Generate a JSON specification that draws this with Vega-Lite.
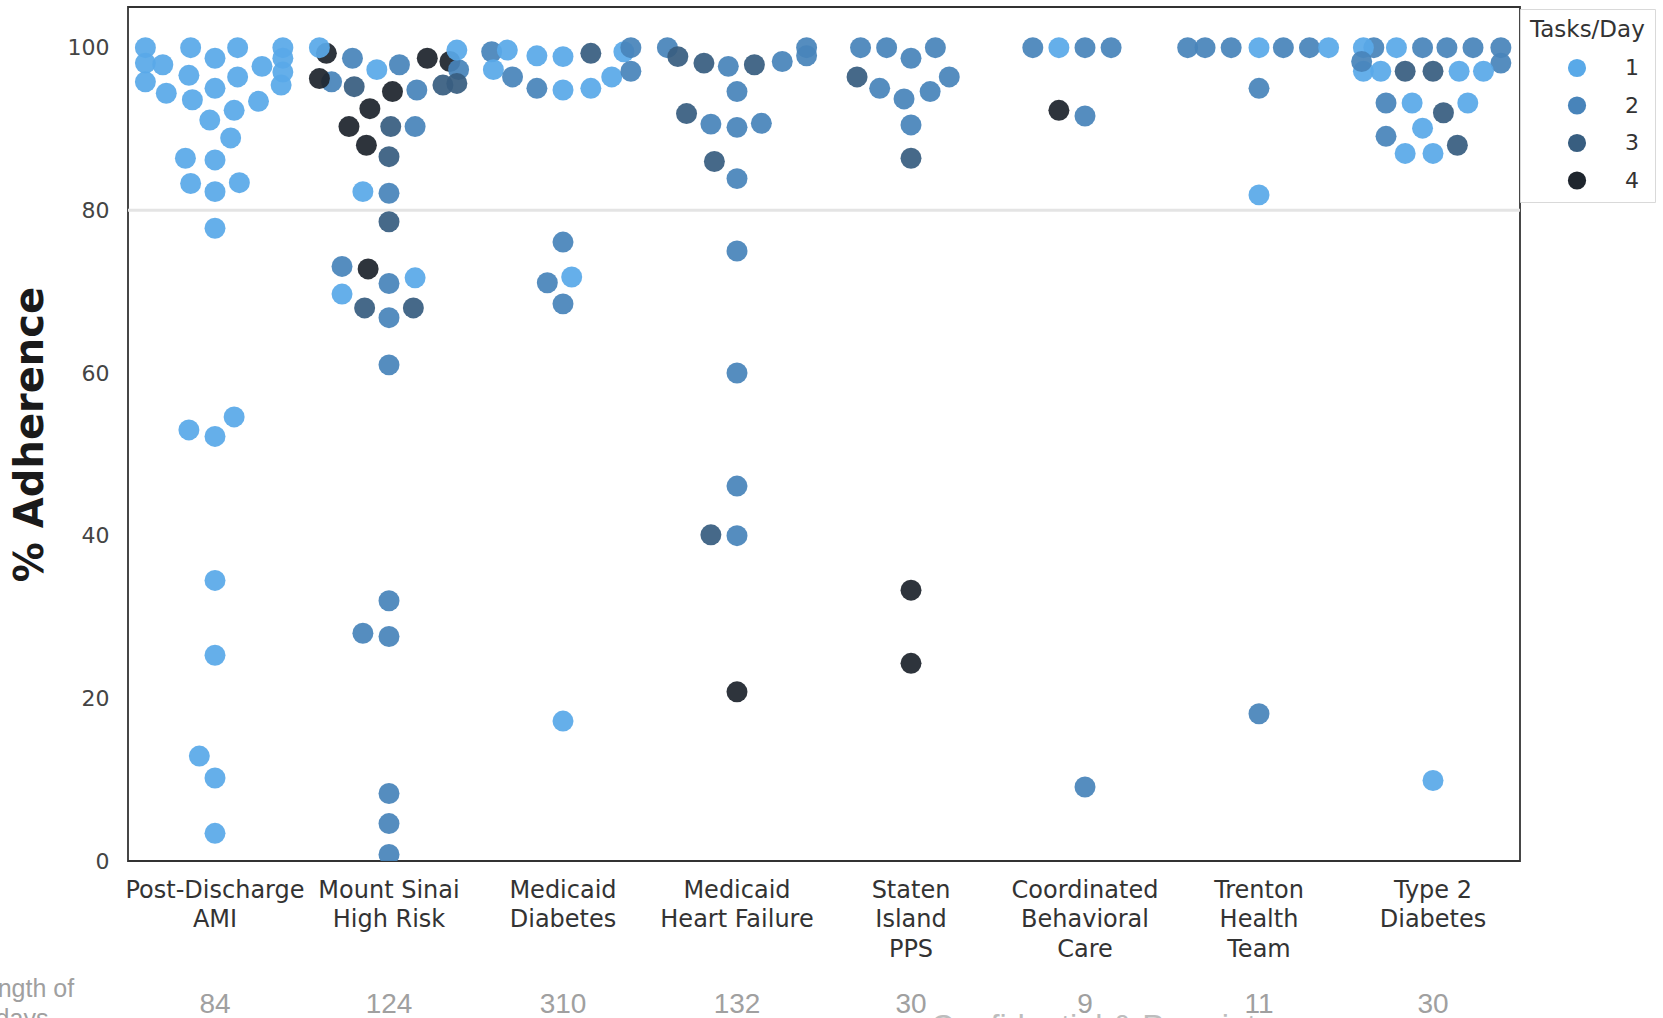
{
  "$schema": "https://vega.github.io/schema/vega-lite/v6.json",
  "autosize": {"type": "none"},
  "padding": {"left": 128, "top": 7, "right": 143, "bottom": 157},
  "width": 1392,
  "height": 854,
  "background": "white",
  "config": {
    "view": {"stroke": "#333333", "strokeWidth": 1.8},
    "legend": {
      "orient": "none", "legendX": 1392, "legendY": 2, "padding": 10,
      "fillColor": "white", "strokeColor": "#d9d9d9", "cornerRadius": 0,
      "titleFont": "DejaVu Sans", "titleFontSize": 23, "titleFontWeight": "normal", "titleColor": "#333333", "titlePadding": 15,
      "labelFont": "DejaVu Sans", "labelFontSize": 22, "labelColor": "#333333",
      "symbolType": "circle", "symbolSize": 330, "symbolOpacity": 1, "symbolStrokeWidth": 0,
      "symbolOffset": 36, "labelOffset": 37, "rowPadding": 15.5
    }
  },
  "datasets": {
    "points": [
      {"program": "Post-Discharge|AMI", "offset": -0.40, "adherence": 100, "tasks": 1},
      {"program": "Post-Discharge|AMI", "offset": -0.40, "adherence": 98.1, "tasks": 1},
      {"program": "Post-Discharge|AMI", "offset": -0.40, "adherence": 95.8, "tasks": 1},
      {"program": "Post-Discharge|AMI", "offset": -0.30, "adherence": 97.9, "tasks": 1},
      {"program": "Post-Discharge|AMI", "offset": -0.28, "adherence": 94.4, "tasks": 1},
      {"program": "Post-Discharge|AMI", "offset": -0.14, "adherence": 100, "tasks": 1},
      {"program": "Post-Discharge|AMI", "offset": -0.15, "adherence": 96.6, "tasks": 1},
      {"program": "Post-Discharge|AMI", "offset": -0.13, "adherence": 93.6, "tasks": 1},
      {"program": "Post-Discharge|AMI", "offset": 0, "adherence": 98.7, "tasks": 1},
      {"program": "Post-Discharge|AMI", "offset": 0, "adherence": 95.0, "tasks": 1},
      {"program": "Post-Discharge|AMI", "offset": -0.03, "adherence": 91.1, "tasks": 1},
      {"program": "Post-Discharge|AMI", "offset": 0.13, "adherence": 100, "tasks": 1},
      {"program": "Post-Discharge|AMI", "offset": 0.13, "adherence": 96.4, "tasks": 1},
      {"program": "Post-Discharge|AMI", "offset": 0.11, "adherence": 92.3, "tasks": 1},
      {"program": "Post-Discharge|AMI", "offset": 0.09, "adherence": 88.9, "tasks": 1},
      {"program": "Post-Discharge|AMI", "offset": 0.27, "adherence": 97.7, "tasks": 1},
      {"program": "Post-Discharge|AMI", "offset": 0.25, "adherence": 93.4, "tasks": 1},
      {"program": "Post-Discharge|AMI", "offset": 0.39, "adherence": 100, "tasks": 1},
      {"program": "Post-Discharge|AMI", "offset": 0.39, "adherence": 98.7, "tasks": 1},
      {"program": "Post-Discharge|AMI", "offset": 0.39, "adherence": 97.0, "tasks": 1},
      {"program": "Post-Discharge|AMI", "offset": 0.38, "adherence": 95.4, "tasks": 1},
      {"program": "Post-Discharge|AMI", "offset": -0.17, "adherence": 86.4, "tasks": 1},
      {"program": "Post-Discharge|AMI", "offset": 0, "adherence": 86.2, "tasks": 1},
      {"program": "Post-Discharge|AMI", "offset": -0.14, "adherence": 83.3, "tasks": 1},
      {"program": "Post-Discharge|AMI", "offset": 0, "adherence": 82.3, "tasks": 1},
      {"program": "Post-Discharge|AMI", "offset": 0.14, "adherence": 83.4, "tasks": 1},
      {"program": "Post-Discharge|AMI", "offset": 0, "adherence": 77.8, "tasks": 1},
      {"program": "Post-Discharge|AMI", "offset": -0.15, "adherence": 53.0, "tasks": 1},
      {"program": "Post-Discharge|AMI", "offset": 0, "adherence": 52.2, "tasks": 1},
      {"program": "Post-Discharge|AMI", "offset": 0.11, "adherence": 54.6, "tasks": 1},
      {"program": "Post-Discharge|AMI", "offset": 0, "adherence": 34.5, "tasks": 1},
      {"program": "Post-Discharge|AMI", "offset": 0, "adherence": 25.3, "tasks": 1},
      {"program": "Post-Discharge|AMI", "offset": -0.09, "adherence": 12.9, "tasks": 1},
      {"program": "Post-Discharge|AMI", "offset": 0, "adherence": 10.2, "tasks": 1},
      {"program": "Post-Discharge|AMI", "offset": 0, "adherence": 3.4, "tasks": 1},

      {"program": "Mount Sinai|High Risk", "offset": -0.36, "adherence": 99.3, "tasks": 4},
      {"program": "Mount Sinai|High Risk", "offset": -0.40, "adherence": 100, "tasks": 1},
      {"program": "Mount Sinai|High Risk", "offset": -0.33, "adherence": 95.8, "tasks": 2},
      {"program": "Mount Sinai|High Risk", "offset": -0.40, "adherence": 96.2, "tasks": 4},
      {"program": "Mount Sinai|High Risk", "offset": -0.21, "adherence": 98.7, "tasks": 2},
      {"program": "Mount Sinai|High Risk", "offset": -0.20, "adherence": 95.2, "tasks": 3},
      {"program": "Mount Sinai|High Risk", "offset": -0.07, "adherence": 97.3, "tasks": 1},
      {"program": "Mount Sinai|High Risk", "offset": 0.06, "adherence": 97.9, "tasks": 2},
      {"program": "Mount Sinai|High Risk", "offset": 0.02, "adherence": 94.6, "tasks": 4},
      {"program": "Mount Sinai|High Risk", "offset": 0.16, "adherence": 94.8, "tasks": 2},
      {"program": "Mount Sinai|High Risk", "offset": 0.22, "adherence": 98.7, "tasks": 4},
      {"program": "Mount Sinai|High Risk", "offset": 0.31, "adherence": 95.4, "tasks": 3},
      {"program": "Mount Sinai|High Risk", "offset": 0.35, "adherence": 98.3, "tasks": 4},
      {"program": "Mount Sinai|High Risk", "offset": 0.40, "adherence": 97.3, "tasks": 2},
      {"program": "Mount Sinai|High Risk", "offset": 0.39, "adherence": 95.6, "tasks": 3},
      {"program": "Mount Sinai|High Risk", "offset": 0.39, "adherence": 99.7, "tasks": 1},
      {"program": "Mount Sinai|High Risk", "offset": -0.11, "adherence": 92.5, "tasks": 4},
      {"program": "Mount Sinai|High Risk", "offset": -0.23, "adherence": 90.3, "tasks": 4},
      {"program": "Mount Sinai|High Risk", "offset": 0.01, "adherence": 90.3, "tasks": 3},
      {"program": "Mount Sinai|High Risk", "offset": 0.15, "adherence": 90.3, "tasks": 2},
      {"program": "Mount Sinai|High Risk", "offset": -0.13, "adherence": 88.0, "tasks": 4},
      {"program": "Mount Sinai|High Risk", "offset": 0, "adherence": 86.6, "tasks": 3},
      {"program": "Mount Sinai|High Risk", "offset": -0.15, "adherence": 82.3, "tasks": 1},
      {"program": "Mount Sinai|High Risk", "offset": 0, "adherence": 82.1, "tasks": 2},
      {"program": "Mount Sinai|High Risk", "offset": 0, "adherence": 78.6, "tasks": 3},
      {"program": "Mount Sinai|High Risk", "offset": -0.27, "adherence": 73.1, "tasks": 2},
      {"program": "Mount Sinai|High Risk", "offset": -0.12, "adherence": 72.8, "tasks": 4},
      {"program": "Mount Sinai|High Risk", "offset": 0, "adherence": 71.0, "tasks": 2},
      {"program": "Mount Sinai|High Risk", "offset": 0.15, "adherence": 71.7, "tasks": 1},
      {"program": "Mount Sinai|High Risk", "offset": -0.27, "adherence": 69.7, "tasks": 1},
      {"program": "Mount Sinai|High Risk", "offset": -0.14, "adherence": 68.0, "tasks": 3},
      {"program": "Mount Sinai|High Risk", "offset": 0, "adherence": 66.8, "tasks": 2},
      {"program": "Mount Sinai|High Risk", "offset": 0.14, "adherence": 68.0, "tasks": 3},
      {"program": "Mount Sinai|High Risk", "offset": 0, "adherence": 61.0, "tasks": 2},
      {"program": "Mount Sinai|High Risk", "offset": 0, "adherence": 32.0, "tasks": 2},
      {"program": "Mount Sinai|High Risk", "offset": -0.15, "adherence": 28.0, "tasks": 2},
      {"program": "Mount Sinai|High Risk", "offset": 0, "adherence": 27.6, "tasks": 2},
      {"program": "Mount Sinai|High Risk", "offset": 0, "adherence": 8.3, "tasks": 2},
      {"program": "Mount Sinai|High Risk", "offset": 0, "adherence": 4.6, "tasks": 2},
      {"program": "Mount Sinai|High Risk", "offset": 0, "adherence": 0.8, "tasks": 2},

      {"program": "Medicaid|Diabetes", "offset": -0.41, "adherence": 99.5, "tasks": 2},
      {"program": "Medicaid|Diabetes", "offset": -0.32, "adherence": 99.7, "tasks": 1},
      {"program": "Medicaid|Diabetes", "offset": -0.40, "adherence": 97.3, "tasks": 1},
      {"program": "Medicaid|Diabetes", "offset": -0.29, "adherence": 96.4, "tasks": 2},
      {"program": "Medicaid|Diabetes", "offset": -0.15, "adherence": 99.0, "tasks": 1},
      {"program": "Medicaid|Diabetes", "offset": -0.15, "adherence": 95.0, "tasks": 2},
      {"program": "Medicaid|Diabetes", "offset": 0, "adherence": 98.9, "tasks": 1},
      {"program": "Medicaid|Diabetes", "offset": 0, "adherence": 94.8, "tasks": 1},
      {"program": "Medicaid|Diabetes", "offset": 0.16, "adherence": 99.3, "tasks": 3},
      {"program": "Medicaid|Diabetes", "offset": 0.16, "adherence": 95.0, "tasks": 1},
      {"program": "Medicaid|Diabetes", "offset": 0.28, "adherence": 96.4, "tasks": 1},
      {"program": "Medicaid|Diabetes", "offset": 0.35, "adherence": 99.5, "tasks": 1},
      {"program": "Medicaid|Diabetes", "offset": 0.39, "adherence": 100, "tasks": 2},
      {"program": "Medicaid|Diabetes", "offset": 0.39, "adherence": 97.1, "tasks": 2},
      {"program": "Medicaid|Diabetes", "offset": 0, "adherence": 76.1, "tasks": 2},
      {"program": "Medicaid|Diabetes", "offset": -0.09, "adherence": 71.1, "tasks": 2},
      {"program": "Medicaid|Diabetes", "offset": 0.05, "adherence": 71.8, "tasks": 1},
      {"program": "Medicaid|Diabetes", "offset": 0, "adherence": 68.5, "tasks": 2},
      {"program": "Medicaid|Diabetes", "offset": 0, "adherence": 17.2, "tasks": 1},

      {"program": "Medicaid|Heart Failure", "offset": -0.40, "adherence": 100, "tasks": 2},
      {"program": "Medicaid|Heart Failure", "offset": -0.34, "adherence": 98.9, "tasks": 3},
      {"program": "Medicaid|Heart Failure", "offset": -0.19, "adherence": 98.1, "tasks": 3},
      {"program": "Medicaid|Heart Failure", "offset": -0.05, "adherence": 97.7, "tasks": 2},
      {"program": "Medicaid|Heart Failure", "offset": 0.10, "adherence": 97.9, "tasks": 3},
      {"program": "Medicaid|Heart Failure", "offset": 0.26, "adherence": 98.3, "tasks": 2},
      {"program": "Medicaid|Heart Failure", "offset": 0.40, "adherence": 100, "tasks": 2},
      {"program": "Medicaid|Heart Failure", "offset": 0.40, "adherence": 99.0, "tasks": 2},
      {"program": "Medicaid|Heart Failure", "offset": 0, "adherence": 94.6, "tasks": 2},
      {"program": "Medicaid|Heart Failure", "offset": -0.29, "adherence": 91.9, "tasks": 3},
      {"program": "Medicaid|Heart Failure", "offset": -0.15, "adherence": 90.6, "tasks": 2},
      {"program": "Medicaid|Heart Failure", "offset": 0, "adherence": 90.2, "tasks": 2},
      {"program": "Medicaid|Heart Failure", "offset": 0.14, "adherence": 90.7, "tasks": 2},
      {"program": "Medicaid|Heart Failure", "offset": -0.13, "adherence": 86.0, "tasks": 3},
      {"program": "Medicaid|Heart Failure", "offset": 0, "adherence": 83.9, "tasks": 2},
      {"program": "Medicaid|Heart Failure", "offset": 0, "adherence": 75.0, "tasks": 2},
      {"program": "Medicaid|Heart Failure", "offset": 0, "adherence": 60.0, "tasks": 2},
      {"program": "Medicaid|Heart Failure", "offset": 0, "adherence": 46.1, "tasks": 2},
      {"program": "Medicaid|Heart Failure", "offset": -0.15, "adherence": 40.1, "tasks": 3},
      {"program": "Medicaid|Heart Failure", "offset": 0, "adherence": 40.0, "tasks": 2},
      {"program": "Medicaid|Heart Failure", "offset": 0, "adherence": 20.8, "tasks": 4},

      {"program": "Staten|Island|PPS", "offset": -0.29, "adherence": 100, "tasks": 2},
      {"program": "Staten|Island|PPS", "offset": -0.14, "adherence": 100, "tasks": 2},
      {"program": "Staten|Island|PPS", "offset": 0, "adherence": 98.7, "tasks": 2},
      {"program": "Staten|Island|PPS", "offset": 0.14, "adherence": 100, "tasks": 2},
      {"program": "Staten|Island|PPS", "offset": -0.31, "adherence": 96.4, "tasks": 3},
      {"program": "Staten|Island|PPS", "offset": -0.18, "adherence": 95.0, "tasks": 2},
      {"program": "Staten|Island|PPS", "offset": -0.04, "adherence": 93.7, "tasks": 2},
      {"program": "Staten|Island|PPS", "offset": 0.11, "adherence": 94.6, "tasks": 2},
      {"program": "Staten|Island|PPS", "offset": 0.22, "adherence": 96.4, "tasks": 2},
      {"program": "Staten|Island|PPS", "offset": 0, "adherence": 90.5, "tasks": 2},
      {"program": "Staten|Island|PPS", "offset": 0, "adherence": 86.4, "tasks": 3},
      {"program": "Staten|Island|PPS", "offset": 0, "adherence": 33.3, "tasks": 4},
      {"program": "Staten|Island|PPS", "offset": 0, "adherence": 24.3, "tasks": 4},

      {"program": "Coordinated|Behavioral|Care", "offset": -0.30, "adherence": 100, "tasks": 2},
      {"program": "Coordinated|Behavioral|Care", "offset": -0.15, "adherence": 100, "tasks": 1},
      {"program": "Coordinated|Behavioral|Care", "offset": 0, "adherence": 100, "tasks": 2},
      {"program": "Coordinated|Behavioral|Care", "offset": 0.15, "adherence": 100, "tasks": 2},
      {"program": "Coordinated|Behavioral|Care", "offset": -0.15, "adherence": 92.3, "tasks": 4},
      {"program": "Coordinated|Behavioral|Care", "offset": 0, "adherence": 91.6, "tasks": 2},
      {"program": "Coordinated|Behavioral|Care", "offset": 0, "adherence": 9.1, "tasks": 2},

      {"program": "Trenton|Health|Team", "offset": -0.41, "adherence": 100, "tasks": 2},
      {"program": "Trenton|Health|Team", "offset": -0.31, "adherence": 100, "tasks": 2},
      {"program": "Trenton|Health|Team", "offset": -0.16, "adherence": 100, "tasks": 2},
      {"program": "Trenton|Health|Team", "offset": 0, "adherence": 100, "tasks": 1},
      {"program": "Trenton|Health|Team", "offset": 0.14, "adherence": 100, "tasks": 2},
      {"program": "Trenton|Health|Team", "offset": 0.29, "adherence": 100, "tasks": 2},
      {"program": "Trenton|Health|Team", "offset": 0.40, "adherence": 100, "tasks": 1},
      {"program": "Trenton|Health|Team", "offset": 0, "adherence": 95.0, "tasks": 2},
      {"program": "Trenton|Health|Team", "offset": 0, "adherence": 81.9, "tasks": 1},
      {"program": "Trenton|Health|Team", "offset": 0, "adherence": 18.1, "tasks": 2},

      {"program": "Type 2|Diabetes", "offset": -0.34, "adherence": 100, "tasks": 2},
      {"program": "Type 2|Diabetes", "offset": -0.40, "adherence": 100, "tasks": 1},
      {"program": "Type 2|Diabetes", "offset": -0.40, "adherence": 97.1, "tasks": 1},
      {"program": "Type 2|Diabetes", "offset": -0.41, "adherence": 98.3, "tasks": 2},
      {"program": "Type 2|Diabetes", "offset": -0.21, "adherence": 100, "tasks": 1},
      {"program": "Type 2|Diabetes", "offset": -0.06, "adherence": 100, "tasks": 2},
      {"program": "Type 2|Diabetes", "offset": 0.08, "adherence": 100, "tasks": 2},
      {"program": "Type 2|Diabetes", "offset": 0.23, "adherence": 100, "tasks": 2},
      {"program": "Type 2|Diabetes", "offset": 0.39, "adherence": 100, "tasks": 2},
      {"program": "Type 2|Diabetes", "offset": 0.39, "adherence": 98.1, "tasks": 2},
      {"program": "Type 2|Diabetes", "offset": -0.30, "adherence": 97.1, "tasks": 1},
      {"program": "Type 2|Diabetes", "offset": -0.16, "adherence": 97.1, "tasks": 3},
      {"program": "Type 2|Diabetes", "offset": 0, "adherence": 97.1, "tasks": 3},
      {"program": "Type 2|Diabetes", "offset": 0.15, "adherence": 97.1, "tasks": 1},
      {"program": "Type 2|Diabetes", "offset": 0.29, "adherence": 97.1, "tasks": 1},
      {"program": "Type 2|Diabetes", "offset": -0.27, "adherence": 93.2, "tasks": 2},
      {"program": "Type 2|Diabetes", "offset": -0.12, "adherence": 93.2, "tasks": 1},
      {"program": "Type 2|Diabetes", "offset": 0.06, "adherence": 92.0, "tasks": 3},
      {"program": "Type 2|Diabetes", "offset": 0.20, "adherence": 93.2, "tasks": 1},
      {"program": "Type 2|Diabetes", "offset": -0.06, "adherence": 90.1, "tasks": 1},
      {"program": "Type 2|Diabetes", "offset": -0.27, "adherence": 89.1, "tasks": 2},
      {"program": "Type 2|Diabetes", "offset": -0.16, "adherence": 87.0, "tasks": 1},
      {"program": "Type 2|Diabetes", "offset": 0, "adherence": 87.0, "tasks": 1},
      {"program": "Type 2|Diabetes", "offset": 0.14, "adherence": 88.0, "tasks": 3},
      {"program": "Type 2|Diabetes", "offset": 0, "adherence": 9.9, "tasks": 1}
    ],
    "lengths": [
      {"program": "Post-Discharge|AMI", "days": "84"},
      {"program": "Mount Sinai|High Risk", "days": "124"},
      {"program": "Medicaid|Diabetes", "days": "310"},
      {"program": "Medicaid|Heart Failure", "days": "132"},
      {"program": "Staten|Island|PPS", "days": "30"},
      {"program": "Coordinated|Behavioral|Care", "days": "9"},
      {"program": "Trenton|Health|Team", "days": "11"},
      {"program": "Type 2|Diabetes", "days": "30"}
    ]
  },
  "layer": [
    {
      "data": {"values": [{"level": 80}]},
      "mark": {"type": "rule", "color": "#e4e4e4", "strokeWidth": 3},
      "encoding": {
        "y": {"field": "level", "type": "quantitative", "scale": {"domain": [0, 105], "nice": false, "zero": false},
          "axis": {
            "title": "% Adherence", "titleFont": "DejaVu Sans", "titleFontWeight": "bold", "titleFontSize": 40,
            "titleColor": "#1a1a1a", "titlePadding": 17,
            "values": [0, 20, 40, 60, 80, 100], "labelFont": "DejaVu Sans", "labelFontSize": 22,
            "labelColor": "#444444", "labelPadding": 19, "labelFlush": false,
            "ticks": false, "domain": false, "grid": false
          }
        }
      }
    },
    {
      "data": {"name": "points"},
      "mark": {"type": "circle", "size": 440, "opacity": 0.93, "clip": true},
      "encoding": {
        "x": {
          "field": "program", "type": "nominal",
          "scale": {
            "domain": ["Post-Discharge|AMI", "Mount Sinai|High Risk", "Medicaid|Diabetes", "Medicaid|Heart Failure", "Staten|Island|PPS", "Coordinated|Behavioral|Care", "Trenton|Health|Team", "Type 2|Diabetes"],
            "paddingInner": 0, "paddingOuter": 0
          },
          "axis": {
            "title": null, "labelExpr": "split(datum.label, '|')", "labelAngle": 0,
            "labelFont": "DejaVu Sans", "labelFontSize": 24, "labelColor": "#333333", "labelLineHeight": 29.5,
            "labelPadding": 17, "ticks": false, "domain": false, "grid": false,
            "labelOverlap": false, "labelLimit": 0, "labelBound": false
          }
        },
        "xOffset": {"field": "offset", "type": "quantitative", "scale": {"domain": [-0.5, 0.5]}},
        "y": {"field": "adherence", "type": "quantitative"},
        "color": {
          "field": "tasks", "type": "ordinal", "title": "Tasks/Day",
          "scale": {"domain": [1, 2, 3, 4], "range": ["#59a9e8", "#4884ba", "#385e80", "#1e252d"]}
        }
      }
    },
    {
      "data": {"name": "lengths"},
      "mark": {"type": "text", "font": "Liberation Sans", "fontSize": 28, "color": "#a0a0a0", "baseline": "middle", "align": "center"},
      "encoding": {
        "x": {"field": "program", "type": "nominal"},
        "y": {"datum": -17.7, "type": "quantitative"},
        "text": {"field": "days"}
      }
    },
    {
      "data": {"values": [{"caption": "Length of days"}]},
      "mark": {"type": "text", "text": ["Length of", "days"], "font": "Liberation Sans", "fontSize": 25, "color": "#a0a0a0", "align": "center", "baseline": "alphabetic", "lineHeight": 30, "dx": -193},
      "encoding": {
        "x": {"datum": "Post-Discharge|AMI"},
        "y": {"datum": -16.7, "type": "quantitative"}
      }
    },
    {
      "data": {"values": [{"caption": "Confidential & Proprietary"}]},
      "mark": {"type": "text", "font": "Liberation Sans", "fontSize": 32.5, "color": "#bdbdbd", "align": "center", "baseline": "top", "dx": 31},
      "encoding": {
        "x": {"datum": "Coordinated|Behavioral|Care"},
        "y": {"datum": -18.6, "type": "quantitative"},
        "text": {"field": "caption"}
      }
    }
  ]
}
